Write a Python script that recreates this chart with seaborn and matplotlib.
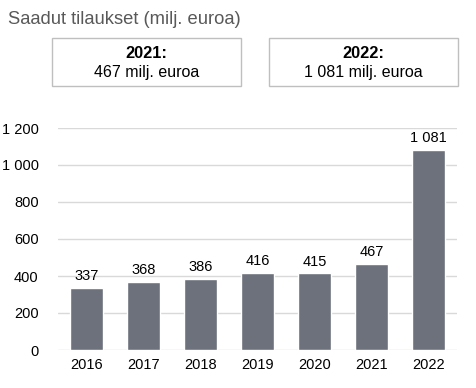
import matplotlib
matplotlib.use("Agg")
import matplotlib.pyplot as plt
import seaborn as sns
import pandas as pd
from matplotlib.patches import Rectangle

years = ["2016", "2017", "2018", "2019", "2020", "2021", "2022"]
orders = [337, 368, 386, 416, 415, 467, 1081]
yticks = [0, 200, 400, 600, 800, 1000, 1200]
title = "Saadut tilaukset (milj. euroa)"
boxes = [("2021:", "467 milj. euroa"), ("2022:", "1 081 milj. euroa")]


def fmt(v):
    return f"{v:,}".replace(",", " ")


sns.set_style("white")
plt.rcParams["font.family"] = ["Liberation Sans", "DejaVu Sans"]

df = pd.DataFrame({"year": years, "orders": orders})

fig = plt.figure(figsize=(4.76, 3.88), dpi=100)
ax = fig.add_axes([58 / 476, 1 - 350 / 388, (457 - 58) / 476, (350 - 128) / 388])

sns.barplot(data=df, x="year", y="orders", color="#6c717c", width=0.58,
            saturation=1, ax=ax, zorder=3)

ax.set_ylim(0, 1200)
ax.set_yticks(yticks)
ax.set_yticklabels([fmt(t) for t in yticks])
ax.grid(axis="y", color="#d9d9d9", linewidth=1, zorder=0)
for s in ["top", "right", "left", "bottom"]:
    ax.spines[s].set_visible(False)
ax.set_xlabel("")
ax.set_ylabel("")
ax.tick_params(axis="both", length=0, labelsize=10.5, colors="black", pad=6)
ax.tick_params(axis="y", pad=14)

for i, v in enumerate(orders):
    ax.text(i, v + 25, fmt(v), ha="center", va="bottom", fontsize=10.5,
            color="black", clip_on=False)

fig.text(8 / 476, 1 - 19 / 388, title, fontsize=13.2, color="#595959",
         ha="left", va="center")

for (x0, x1), (head, body) in zip([(52, 241), (269, 458)], boxes):
    fig.patches.append(Rectangle((x0 / 476, 1 - 86 / 388), (x1 - x0) / 476,
                                 48 / 388, transform=fig.transFigure,
                                 fill=False, edgecolor="#bfbfbf", linewidth=1))
    cx = (x0 + x1) / 2 / 476
    fig.text(cx, 1 - 53 / 388, head, ha="center", va="center", fontsize=11.8,
             fontweight="bold", color="black")
    fig.text(cx, 1 - 72 / 388, body, ha="center", va="center", fontsize=11.5,
             color="black")

plt.savefig("out.png", dpi=100)
